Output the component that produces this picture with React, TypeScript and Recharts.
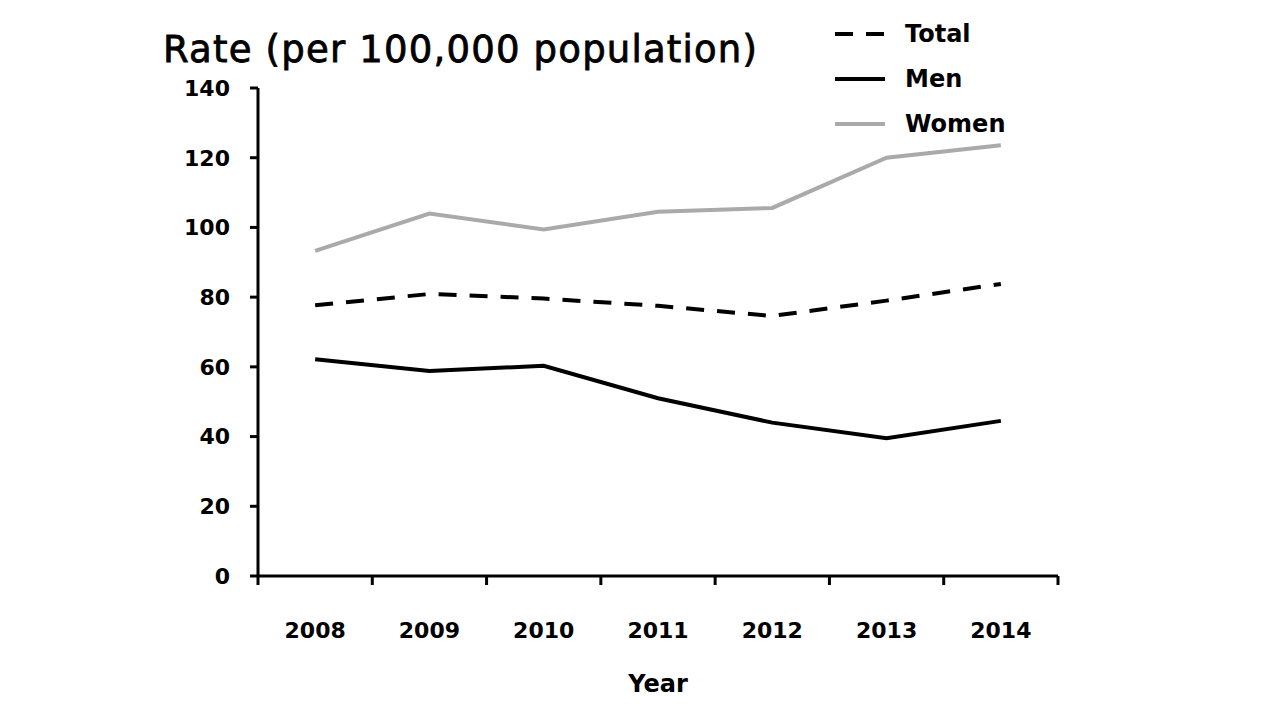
import React from 'react';
import { LineChart, Line, XAxis, YAxis, Label } from 'recharts';

const years = ['2008', '2009', '2010', '2011', '2012', '2013', '2014'];
const total = [77.7, 80.9, 79.6, 77.5, 74.6, 79.0, 83.8];
const men = [62.2, 58.8, 60.3, 51.0, 44.0, 39.5, 44.5];
const women = [93.3, 104.0, 99.4, 104.5, 105.6, 120.0, 123.6];
const yTicks = [0, 20, 40, 60, 80, 100, 120, 140];

const data = years.map((y, i) => ({ year: y, pos: i + 0.5, total: total[i], men: men[i], women: women[i] }));
const boundaryTicks = years.map((_, i) => i).concat([years.length]);
const centerTicks = years.map((_, i) => i + 0.5);

const FONT = '"DejaVu Sans", sans-serif';

const legendItems = [
  { name: 'Total', color: '#000', dash: '18 13' },
  { name: 'Men', color: '#000', dash: undefined },
  { name: 'Women', color: '#aaaaaa', dash: undefined },
];

export default function App() {
  return (
    <div style={{ position: 'absolute', left: 0, top: 0, width: 1265, height: 710, background: '#fff' }}>
      <div style={{ position: 'absolute', left: 163, top: 31, fontFamily: FONT, fontSize: 37, letterSpacing: 1.2, WebkitTextStroke: '0.8px #000', color: '#000', lineHeight: 1, whiteSpace: 'nowrap' }}>
        Rate (per 100,000 population)
      </div>
      <div style={{ position: 'absolute', left: 835, top: 11, fontFamily: FONT }}>
        {legendItems.map((it) => (
          <div key={it.name} style={{ display: 'flex', alignItems: 'center', height: 45 }}>
            <svg width={70} height={10}>
              <line x1={0} y1={5} x2={50} y2={5} stroke={it.color} strokeWidth={4} strokeDasharray={it.dash} />
            </svg>
            <span style={{ fontWeight: 'bold', fontSize: 24, color: '#000' }}>{it.name}</span>
          </div>
        ))}
      </div>
      <LineChart width={1265} height={710} data={data} margin={{ top: 88, right: 207, bottom: 0, left: 0 }}>
        <YAxis
          type="number"
          domain={[0, 140]}
          ticks={yTicks}
          width={258}
          axisLine={{ stroke: '#000', strokeWidth: 3 }}
          tickLine={{ stroke: '#000', strokeWidth: 3 }}
          tickSize={8}
          tickMargin={20}
          tick={{ fill: '#000', fontFamily: FONT, fontWeight: 'bold', fontSize: 22 }}
        />
        <XAxis
          dataKey="pos"
          type="number"
          domain={[0, years.length]}
          ticks={boundaryTicks}
          tickFormatter={() => ''}
          height={10}
          axisLine={{ stroke: '#000', strokeWidth: 3 }}
          tickLine={{ stroke: '#000', strokeWidth: 3 }}
          tickSize={9}
        />
        <XAxis
          xAxisId="labels"
          dataKey="pos"
          type="number"
          domain={[0, years.length]}
          ticks={centerTicks}
          tickFormatter={(v: number) => years[Math.floor(v)]}
          height={124}
          axisLine={false}
          tickLine={false}
          tickSize={0}
          tickMargin={36}
          tick={{ fill: '#000', fontFamily: FONT, fontWeight: 'bold', fontSize: 22 }}
        >
          <Label value="Year" position="insideBottom" offset={18} style={{ fill: '#000', fontFamily: FONT, fontWeight: 'bold', fontSize: 24 }} />
        </XAxis>
        <Line dataKey="women" name="Women" stroke="#aaaaaa" strokeWidth={4} dot={false} isAnimationActive={false} />
        <Line dataKey="total" name="Total" stroke="#000" strokeWidth={4} strokeDasharray="18 13" dot={false} isAnimationActive={false} />
        <Line dataKey="men" name="Men" stroke="#000" strokeWidth={4} dot={false} isAnimationActive={false} />
      </LineChart>
    </div>
  );
}
